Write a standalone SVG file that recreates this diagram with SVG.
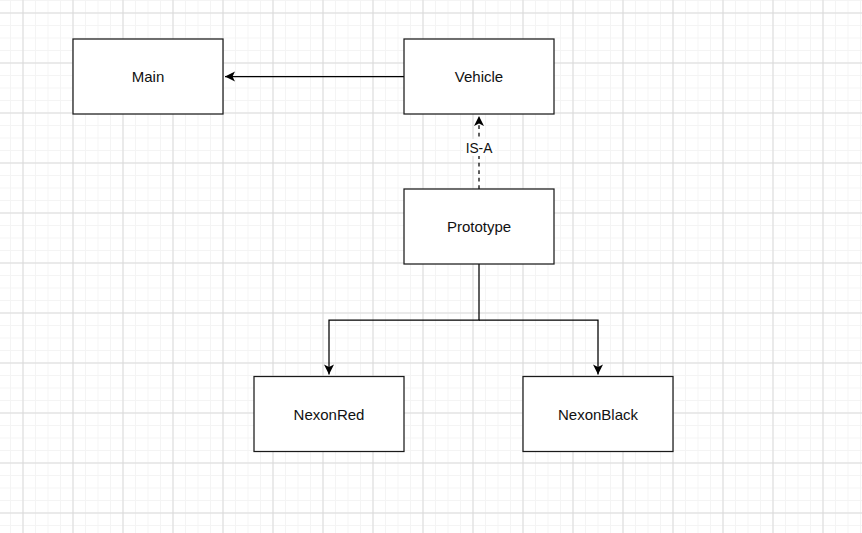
<svg xmlns="http://www.w3.org/2000/svg" width="862" height="533" viewBox="0 0 862 533">
<defs>
<pattern id="minor" patternUnits="userSpaceOnUse" x="10" y="0" width="12.5" height="12.5">
<path d="M0.5,0 V12.5 M0,0.5 H12.5" stroke="#f4f4f4" stroke-width="1" fill="none"/>
</pattern>
<pattern id="major" patternUnits="userSpaceOnUse" x="22.5" y="12.5" width="50" height="50">
<path d="M0.5,0 V50 M0,0.5 H50" stroke="#dadada" stroke-width="1" fill="none"/>
</pattern>
<marker id="arrow" markerUnits="userSpaceOnUse" viewBox="-11 -6 12 12" refX="0" refY="0" markerWidth="12" markerHeight="12" orient="auto">
<path d="M0,0 L-10,-5 L-7.5,0 L-10,5 Z" fill="#000"/>
</marker>
<style>
.box{fill:#fff;stroke:#1a1a1a;stroke-width:1.25}
.lbl{font-family:"Liberation Sans",Arial,sans-serif;font-size:15px;fill:#111;text-anchor:middle}
.edge{fill:none;stroke:#000;stroke-width:1.25}
.elbl{font-family:"Liberation Sans",Arial,sans-serif;font-size:13.75px;fill:#111;text-anchor:middle}
</style>
</defs>
<rect width="862" height="533" fill="#fff"/>
<rect width="862" height="533" fill="url(#minor)"/>
<rect width="862" height="533" fill="url(#major)"/>
<g id="connectors">
<path class="edge" d="M404,76.5 H225" marker-end="url(#arrow)"/>
<path class="edge" d="M479,189 V116" stroke-dasharray="3.75 3.75" marker-end="url(#arrow)"/>
<rect x="463" y="139" width="32" height="17" fill="#fff"/>
<text class="elbl" x="479" y="153">IS-A</text>
<path class="edge" d="M479,264 V320 H329 V374.5" marker-end="url(#arrow)"/>
<path class="edge" d="M479,320 H598 V374.5" marker-end="url(#arrow)"/>
</g>
<g id="main">
<rect class="box" x="73" y="39" width="150" height="75"/>
<text class="lbl" x="148" y="82">Main</text>
</g>
<g id="vehicle">
<rect class="box" x="404" y="39" width="150" height="75"/>
<text class="lbl" x="479" y="82">Vehicle</text>
</g>
<g id="prototype">
<rect class="box" x="404" y="189" width="150" height="75"/>
<text class="lbl" x="479" y="232">Prototype</text>
</g>
<g id="nexonred">
<rect class="box" x="254" y="376.5" width="150" height="75"/>
<text class="lbl" x="329" y="419.5">NexonRed</text>
</g>
<g id="nexonblack">
<rect class="box" x="523" y="376.5" width="150" height="75"/>
<text class="lbl" x="598" y="419.5">NexonBlack</text>
</g>
</svg>
